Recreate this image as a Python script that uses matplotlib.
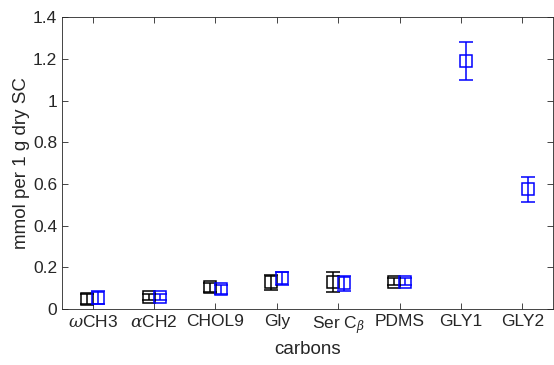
import numpy as np
import matplotlib
matplotlib.use("Agg")
import matplotlib.pyplot as plt
from matplotlib.ticker import FuncFormatter

plt.rcParams['font.family'] = ['Liberation Sans', 'DejaVu Sans']
plt.rcParams['mathtext.fontset'] = 'custom'
plt.rcParams['mathtext.rm'] = 'Liberation Sans'
plt.rcParams['mathtext.it'] = 'DejaVu Serif:italic'

# data
categories = [r'$\omega$CH3', r'$\alpha$CH2', 'CHOL9', 'Gly', r'Ser C$_{\beta}$', 'PDMS', 'GLY1', 'GLY2']
black_vals = [0.05, 0.058, 0.105, 0.13, 0.13, 0.132, np.nan, np.nan]
black_err = [0.025, 0.015, 0.022, 0.036, 0.05, 0.015, np.nan, np.nan]
blue_vals = [0.055, 0.06, 0.095, 0.147, 0.125, 0.132, 1.19, 0.575]
blue_err = [0.03, 0.015, 0.022, 0.032, 0.036, 0.015, 0.09, 0.06]
yticks = [0, 0.2, 0.4, 0.6, 0.8, 1.0, 1.2, 1.4]

x = np.arange(1, len(categories) + 1)

fig = plt.figure(figsize=(5.54, 3.65), dpi=100)
ax = fig.add_axes([0.112, 0.153, 0.886, 0.8])

style = dict(fmt='s', markersize=8, markerfacecolor='none', capsize=5,
             elinewidth=1.1, markeredgewidth=1.1, capthick=1.1)
ax.errorbar(x - 0.09, black_vals, yerr=black_err, color='black', **style)
ax.errorbar(x + 0.09, blue_vals, yerr=blue_err, color='blue', **style)

ax.set_xlim(0.5, 8.5)
ax.set_ylim(0, 1.4)
ax.set_xticks(x)
ax.set_xticklabels(categories)
ax.set_yticks(yticks)
ax.yaxis.set_major_formatter(FuncFormatter(lambda v, p: '%g' % round(v, 2)))
ax.tick_params(axis='both', direction='in', top=True, right=True, labelsize=12.5,
               length=4, width=0.6, color='#262626', labelcolor='#262626')
for s in ax.spines.values():
    s.set_linewidth(0.6)
    s.set_color('#262626')

ax.set_xlabel('carbons', fontsize=13.5, color='#262626')
ax.set_ylabel('mmol per 1 g dry SC', fontsize=13.5, color='#262626', labelpad=2)

fig.savefig('out.png', dpi=100)
